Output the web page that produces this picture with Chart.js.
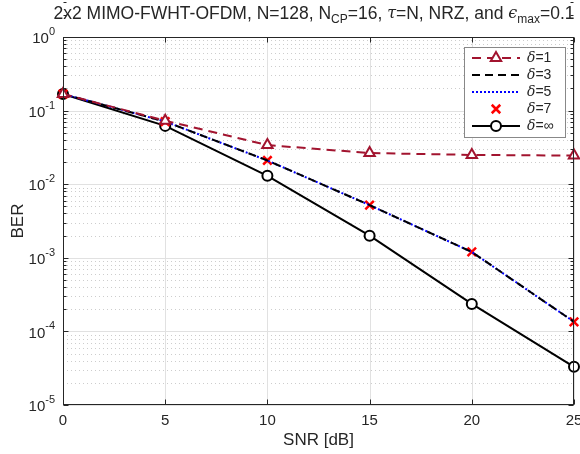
<!DOCTYPE html>
<html>
<head>
<meta charset="utf-8">
<style>
  html, body { margin: 0; padding: 0; background: #fff; }
  #wrap { width: 580px; height: 454px; position: relative; }
</style>
<script src="https://cdn.jsdelivr.net/npm/chart.js@4/dist/chart.umd.min.js"></script>
</head>
<body>
<div id="wrap"><canvas id="c" width="580" height="454"></canvas></div>
<script>
// ---- data ----
const SNR = [0, 5, 10, 15, 20, 25];
const BER_D1 = [0.168, 0.073, 0.034, 0.0265, 0.025, 0.0245];
const BER_D3 = [0.168, 0.071, 0.021, 0.0052, 0.0012, 0.000135];
const BER_D5 = [0.168, 0.071, 0.021, 0.0052, 0.0012, 0.000135];
const BER_D7 = [0.168, 0.071, 0.021, 0.0052, 0.0012, 0.000135];
const BER_INF = [0.168, 0.062, 0.013, 0.0020, 0.000236, 0.000033];
const X_TICKS = [0, 5, 10, 15, 20, 25];
const Y_DECADES = [0, -1, -2, -3, -4, -5];

const TXT = '#262626', AX = '#262626', GRIDC = '#e1e1e1', MINORC = '#cdcdcd';
const DARKRED = '#A2142F', BLUE = '#0000FF', RED = '#FF0000';
const FONT = '"Liberation Sans", Arial, Helvetica, sans-serif';

const pts = (ys) => SNR.map((x, i) => ({ x, y: ys[i] }));

const figure = {
  id: 'matlabFigure',
  beforeDatasetsDraw(c) {
    const { ctx, chartArea: a, scales: { x, y } } = c;
    ctx.save();
    // minor dotted grid on y
    ctx.strokeStyle = MINORC; ctx.lineWidth = 1; ctx.setLineDash([1, 3]);
    Y_DECADES.forEach(d => {
      if (d === 0) return;
      for (let m = 2; m <= 9; m++) {
        const py = Math.round(y.getPixelForValue(m * Math.pow(10, d))) + 0.5;
        ctx.beginPath(); ctx.moveTo(a.left, py); ctx.lineTo(a.right, py); ctx.stroke();
      }
    });
    // major grid
    ctx.setLineDash([]); ctx.strokeStyle = GRIDC;
    X_TICKS.forEach(v => {
      const px = Math.round(x.getPixelForValue(v)) + 0.5;
      ctx.beginPath(); ctx.moveTo(px, a.top); ctx.lineTo(px, a.bottom); ctx.stroke();
    });
    Y_DECADES.forEach(d => {
      const py = Math.round(y.getPixelForValue(Math.pow(10, d))) + 0.5;
      ctx.beginPath(); ctx.moveTo(a.left, py); ctx.lineTo(a.right, py); ctx.stroke();
    });
    ctx.restore();
  },
  afterDatasetsDraw(c) {
    const { ctx, chartArea: a, scales: { x, y } } = c;
    ctx.save();
    // frame
    ctx.strokeStyle = AX; ctx.lineWidth = 1;
    const L = Math.round(a.left) + 0.5, R = Math.round(a.right) - 0.5,
          T = Math.round(a.top) + 0.5, B = Math.round(a.bottom) - 0.5;
    ctx.strokeRect(L, T, R - L, B - T);
    // ticks
    ctx.beginPath();
    X_TICKS.forEach(v => {
      const px = Math.round(x.getPixelForValue(v)) + 0.5;
      ctx.moveTo(px, B); ctx.lineTo(px, B - 5);
      ctx.moveTo(px, T); ctx.lineTo(px, T + 5);
    });
    Y_DECADES.forEach(d => {
      for (let m = 1; m <= 9; m++) {
        if (d === -5 && m > 1) break;
        const py = Math.round(y.getPixelForValue(m * Math.pow(10, d))) + 0.5;
        const len = m === 1 ? 5 : 3;
        ctx.moveTo(L, py); ctx.lineTo(L + len, py);
        ctx.moveTo(R, py); ctx.lineTo(R - len, py);
      }
    });
    ctx.stroke();

    // tick labels
    ctx.fillStyle = TXT;
    ctx.font = '15px ' + FONT;
    ctx.textAlign = 'center'; ctx.textBaseline = 'middle';
    X_TICKS.forEach(v => ctx.fillText(String(v), x.getPixelForValue(v), 421));
    Y_DECADES.forEach(d => {
      const py = y.getPixelForValue(Math.pow(10, d));
      const exp = String(d);
      ctx.font = '11px ' + FONT;
      const ew = ctx.measureText(exp).width;
      ctx.font = '15px ' + FONT;
      const bw = ctx.measureText('10').width;
      const xr = a.left - 8;
      ctx.textAlign = 'left'; ctx.textBaseline = 'middle';
      ctx.fillText('10', xr - ew - bw, py + 2);
      ctx.font = '11px ' + FONT;
      ctx.fillText(exp, xr - ew, py - 5);
    });

    // axis titles
    ctx.font = '17px ' + FONT; ctx.textAlign = 'center'; ctx.textBaseline = 'middle';
    ctx.fillText('SNR [dB]', (a.left + a.right) / 2, 440);
    ctx.save(); ctx.translate(18, (a.top + a.bottom) / 2); ctx.rotate(-Math.PI / 2);
    ctx.fillText('BER', 0, 0); ctx.restore();

    // title with sub/superscripts
    const parts = [
      ['2x2 MIMO-FWHT-OFDM, N=128, N', 'n'], ['CP', 'sub'], ['=16, ', 'n'], ['\u03C4', 'it'],
      ['=N, NRZ, and ', 'n'], ['\u03F5', 'it'], ['max', 'sub'], ['=0.1', 'n']
    ];
    const fontFor = k => k === 'sub' ? '12px ' + FONT : k === 'it' ? 'italic 16px "DejaVu Serif", serif' : '17.5px ' + FONT;
    let tw = 0;
    parts.forEach(([s, k]) => { ctx.font = fontFor(k); tw += ctx.measureText(s).width; });
    let tx = 314 - tw / 2; const ty = 14;
    ctx.textAlign = 'left'; ctx.textBaseline = 'middle';
    parts.forEach(([s, k]) => {
      ctx.font = fontFor(k);
      ctx.fillText(s, tx, k === 'sub' ? ty + 6 : ty);
      tx += ctx.measureText(s).width;
    });

    // legend
    const lx = 464, ly = 47, lw = 101, lh = 90;
    ctx.fillStyle = '#fff'; ctx.fillRect(lx, ly, lw, lh);
    ctx.strokeStyle = '#888'; ctx.lineWidth = 1; ctx.setLineDash([]);
    ctx.strokeRect(lx + 0.5, ly + 0.5, lw, lh);
    c.data.datasets.forEach((ds, i) => {
      const ry = ly + 11 + i * 17;
      const x0 = lx + 8, x1 = lx + 56, xm = (x0 + x1) / 2;
      if (ds.showLine !== false) {
        ctx.strokeStyle = ds.borderColor; ctx.lineWidth = ds.borderWidth;
        ctx.setLineDash(ds.borderDash || []);
        ctx.beginPath(); ctx.moveTo(x0, ry); ctx.lineTo(x1, ry); ctx.stroke();
        ctx.setLineDash([]);
      }
      if (ds.pointRadius > 0) {
        ctx.lineWidth = ds.pointBorderWidth;
        ctx.strokeStyle = ds.pointBorderColor; ctx.fillStyle = '#fff';
        const r = ds.pointRadius;
        if (ds.pointStyle === 'circle') {
          ctx.beginPath(); ctx.arc(xm, ry, r, 0, Math.PI * 2); ctx.fill(); ctx.stroke();
        } else if (ds.pointStyle === 'triangle') {
          ctx.beginPath();
          ctx.moveTo(xm, ry - r); ctx.lineTo(xm + r * 0.87, ry + r * 0.5); ctx.lineTo(xm - r * 0.87, ry + r * 0.5);
          ctx.closePath(); ctx.fill(); ctx.stroke();
        } else if (ds.pointStyle === 'cross') {
          const h = r * 0.707;
          ctx.beginPath();
          ctx.moveTo(xm - h, ry - h); ctx.lineTo(xm + h, ry + h);
          ctx.moveTo(xm + h, ry - h); ctx.lineTo(xm - h, ry + h); ctx.stroke();
        }
      }
      ctx.fillStyle = TXT; ctx.textBaseline = 'middle'; ctx.textAlign = 'left';
      ctx.font = 'italic 14px "DejaVu Serif", serif';
      const dw = ctx.measureText('\u03B4').width;
      ctx.fillText('\u03B4', lx + 63, ry);
      ctx.font = '14px ' + FONT;
      ctx.fillText(ds.label.slice(1), lx + 63 + dw, ry);
    });
    ctx.restore();
  }
};

new Chart(document.getElementById('c'), {
  type: 'line',
  data: {
    datasets: [
      { label: '\u03B4=1', data: pts(BER_D1), borderColor: DARKRED, borderWidth: 2, borderDash: [9, 6],
        pointStyle: 'triangle', pointRadius: 6, pointBorderColor: DARKRED, pointBackgroundColor: '#fff', pointBorderWidth: 2 },
      { label: '\u03B4=3', data: pts(BER_D3), borderColor: '#000', borderWidth: 2, borderDash: [8, 5], pointRadius: 0 },
      { label: '\u03B4=5', data: pts(BER_D5), borderColor: BLUE, borderWidth: 2, borderDash: [2, 2], pointRadius: 0 },
      { label: '\u03B4=7', data: pts(BER_D7), showLine: false, pointStyle: 'cross', pointRotation: 45,
        pointRadius: 6, pointBorderColor: RED, pointBorderWidth: 2.5, borderColor: RED },
      { label: '\u03B4=\u221E', data: pts(BER_INF), borderColor: '#000', borderWidth: 2,
        pointStyle: 'circle', pointRadius: 5, pointBorderColor: '#000', pointBackgroundColor: '#fff', pointBorderWidth: 2 }
    ].map(d => Object.assign({ clip: false, tension: 0, fill: false }, d))
  },
  options: {
    responsive: false, animation: false, devicePixelRatio: 1,
    layout: { autoPadding: false, padding: { left: 63, right: 6, top: 37, bottom: 49 } },
    plugins: { legend: { display: false }, tooltip: { enabled: false } },
    scales: {
      x: { type: 'linear', display: false, min: 0, max: 25 },
      y: { type: 'logarithmic', display: false, min: 1e-5, max: 1 }
    }
  },
  plugins: [figure]
});
</script>
</body>
</html>
